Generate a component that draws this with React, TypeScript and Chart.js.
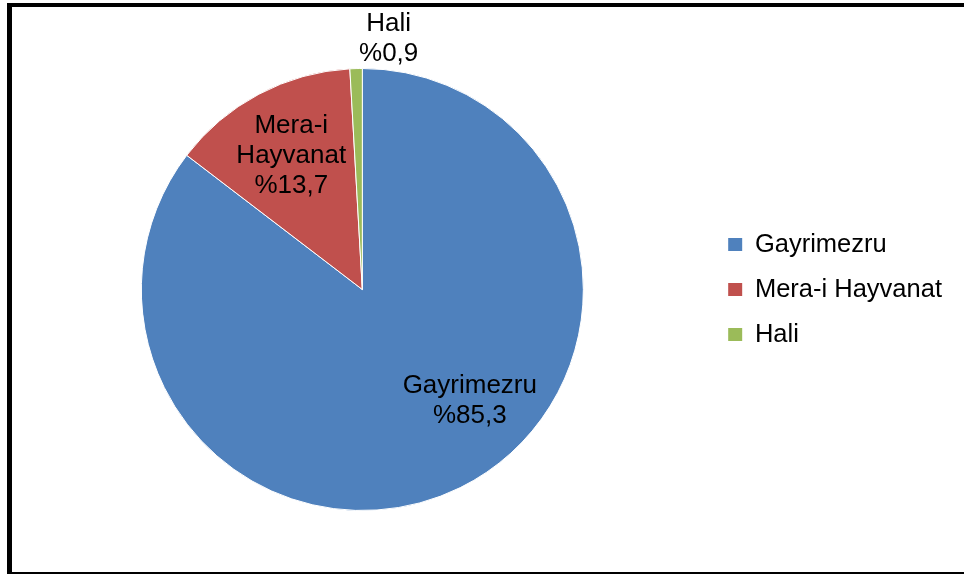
import React, { useEffect, useRef } from "react";
import { Chart, registerables } from "chart.js";

Chart.register(...registerables);

// ---- data ----
const categories = ["Gayrimezru", "Mera-i Hayvanat", "Hali"];
const values = [85.3, 13.7, 0.9];
const valueLabels = ["%85,3", "%13,7", "%0,9"];
const labelLines = [["Gayrimezru"], ["Mera-i", "Hayvanat"], ["Hali"]];
const colors = ["#4F81BD", "#C0504D", "#9BBB59"];
// label anchor: angle (deg, clockwise from 12 o'clock) and radius fraction
const labelAngleDeg = [136, 332, 6];
const labelRadiusFrac = [0.7, 0.685, 1.14];

const FONT = "'Liberation Sans', Arial, Helvetica, sans-serif";

const sliceLabelPlugin = {
  id: "sliceLabels",
  afterDatasetsDraw(chart: any) {
    const ctx = chart.ctx;
    const meta = chart.getDatasetMeta(0);
    ctx.save();
    ctx.font = `26px ${FONT}`;
    ctx.fillStyle = "#000";
    ctx.textAlign = "center";
    ctx.textBaseline = "middle";
    meta.data.forEach((arc: any, i: number) => {
      const { x, y, outerRadius } = arc.getProps(["x", "y", "outerRadius"], true);
      const a = (labelAngleDeg[i] * Math.PI) / 180;
      const r = outerRadius * labelRadiusFrac[i];
      const cx = x + r * Math.sin(a);
      const cy = y - r * Math.cos(a);
      const lines = [...labelLines[i], valueLabels[i]];
      const lh = 30;
      lines.forEach((t, k) => {
        ctx.fillText(t, cx, cy + (k - (lines.length - 1) / 2) * lh);
      });
    });
    ctx.restore();
  },
};

export default function App() {
  const canvasRef = useRef<HTMLCanvasElement | null>(null);

  useEffect(() => {
    const canvas = canvasRef.current;
    if (!canvas) return;
    const chart = new Chart(canvas, {
      type: "pie",
      data: {
        labels: categories,
        datasets: [
          {
            data: values,
            backgroundColor: colors,
            borderColor: "#ffffff",
            borderWidth: 1,
          },
        ],
      },
      options: {
        responsive: false,
        animation: false,
        devicePixelRatio: 1,
        layout: { padding: { left: 16, top: 68, bottom: 65, right: 12 } },
        plugins: {
          tooltip: { enabled: false },
          legend: {
            position: "right",
            align: "center",
            labels: {
              boxWidth: 14,
              boxHeight: 13,
              padding: 19.5,
              color: "#000",
              font: { size: 25.5, family: FONT },
              generateLabels: (ch: any) => {
                const base = Chart.overrides.pie.plugins.legend.labels.generateLabels(ch);
                return base.map((it: any) => ({ ...it, lineWidth: 0, strokeStyle: "rgba(0,0,0,0)" }));
              },
            },
          },
        },
      } as any,
      plugins: [sliceLabelPlugin],
    });
    return () => chart.destroy();
  }, []);

  return (
    <div style={{ position: "absolute", left: 0, top: 0, width: 964, height: 576, background: "#fff", overflow: "hidden" }}>
      <canvas
        ref={canvasRef}
        width={964}
        height={576}
        style={{ position: "absolute", left: 0, top: 0, width: 964, height: 576 }}
      />
      <div
        style={{
          position: "absolute",
          left: 7,
          top: 3,
          width: 957,
          height: 571,
          boxSizing: "border-box",
          borderLeft: "5px solid #000",
          borderTop: "4px solid #000",
          borderBottom: "2px solid #000",
          pointerEvents: "none",
        }}
      />
    </div>
  );
}
